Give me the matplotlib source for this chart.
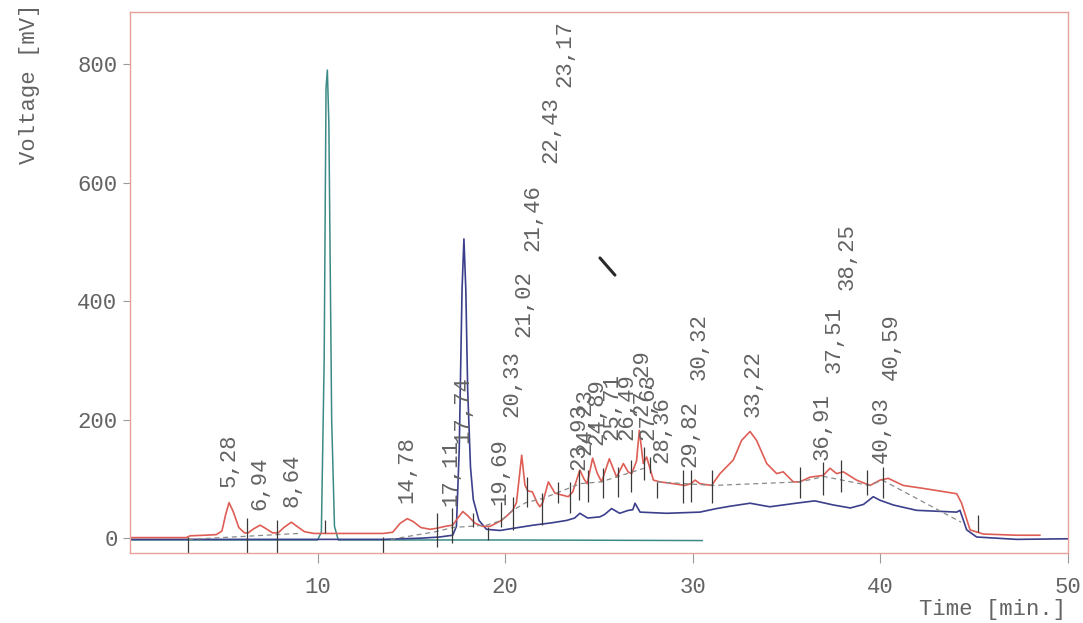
import matplotlib.pyplot as plt
import numpy as np

# red trace (sample)
red_t = [0, 3.0, 3.2, 4.0, 4.6, 4.9, 5.1, 5.28, 5.5, 5.8, 6.1, 6.3, 6.6, 6.94, 7.2, 7.6, 7.9, 8.2, 8.6, 8.9,
         9.3, 9.8, 10.2, 13.5, 14.0, 14.4, 14.78, 15.1, 15.5, 16.0, 16.4, 16.8, 17.2, 17.5, 17.74, 18.0, 18.4,
         18.8, 19.2, 19.5, 19.8, 20.1, 20.4, 20.6, 20.88, 21.05, 21.2, 21.45, 21.7, 21.85, 22.0, 22.3, 22.65,
         23.0, 23.36, 23.6, 23.98, 24.2, 24.37, 24.66, 24.9, 25.14, 25.55, 25.94, 26.3, 26.55, 26.74, 27.0,
         27.15, 27.36, 27.54, 27.9, 28.25, 28.96, 29.58, 29.9, 30.12, 30.38, 31.0, 31.45, 32.16, 32.6, 33.05,
         33.4, 33.94, 34.47, 34.82, 35.36, 35.7, 36.25, 36.96, 37.31, 37.67, 38.02, 38.73, 39.45, 39.98, 40.42,
         41.22, 42.29, 44.07, 44.33, 44.78, 45.49, 47.26, 48.5]
red_v = [1, 1, 4, 5, 6, 12, 40, 60, 45, 18, 9, 9, 16, 22, 17, 9, 9, 18, 27, 20,
         11, 8, 8, 8, 10, 25, 33, 28, 18, 15, 17, 20, 22, 35, 45, 38, 25,
         20, 20, 25, 30, 38, 47, 60, 140, 90, 80, 78, 60, 53, 60, 95, 76,
         73, 70, 78, 115, 100, 92, 135, 110, 95, 134, 103, 126, 112, 109, 130,
         182, 126, 137, 98, 95, 92, 89, 92, 98, 92, 89, 109, 132, 165, 180,
         165, 126, 109, 112, 95, 95, 103, 106, 118, 109, 112, 98, 89, 98, 101,
         89, 84, 75, 59, 14, 7, 5, 5]

# blue trace
blue_t = [0, 13.5, 14.5, 15.5, 16.5, 17.2, 17.4, 17.55, 17.7, 17.8, 17.9, 18.0, 18.15, 18.3, 18.6, 19.0,
          19.72, 20.5, 21.5, 22.5, 23.28, 23.7, 23.98, 24.4, 25.05, 25.3, 25.67, 26.1, 26.57, 26.8, 26.92,
          27.19, 28.6, 30.38, 31.27, 32.0, 33.05, 34.1, 35.5, 36.5, 37.5, 38.4, 39.1, 39.62, 39.98, 40.69,
          41.93, 44.07, 44.24, 44.6, 45.13, 47.26, 50]
blue_v = [-2, -2, -1, 0, 2, 5, 20, 150, 420, 505, 420, 250, 120, 65, 30, 15,
          13, 17, 22, 26, 30, 34, 42, 34, 36, 40, 50, 42, 47, 48, 59,
          44, 42, 44, 50, 54, 59, 53, 59, 63, 56, 51, 57, 70, 64, 56,
          47, 44, 47, 14, 2, -2, -1]

# teal trace
teal_t = [0, 10.0, 10.2, 10.35, 10.45, 10.52, 10.6, 10.75, 10.9, 11.1, 20, 30.5]
teal_v = [-3, -3, 10, 300, 760, 790, 700, 200, 20, -3, -3, -4]

# dashed integration baseline (nan = break)
base_t = [3.1, 9.0, np.nan, 13.9, 16.3, 17.2, 19.0, 19.8, 20.4, 21.1, 22.0, 24.0, 25.1, 26.8, 27.4,
          np.nan, 28.1, 31.1, 35.7, 37.0, 39.4, 40.1, 44.3]
base_v = [-2, 8, np.nan, -2, 11, 18, 22, 30, 47, 60, 67, 92, 95, 112, 118,
          np.nan, 95, 89, 95, 104, 89, 98, 27]

# integration marks: time, low, high
mark_t = [3.11, 6.22, 7.82, 10.4, 13.5, 16.34, 17.15, 18.3, 19.1, 19.8, 20.43, 21.14, 21.97, 22.83, 23.45,
          23.93, 24.4, 25.23, 26.0, 26.7, 27.42, 27.7, 28.07, 29.46, 29.89, 31.0, 35.7, 36.92, 37.9, 39.27,
          40.16, 45.18]
mark_lo = [-25, -25, -25, 8, -25, -15, -8, 19, -3, 19, 14, 53, 22, 59, 42,
           64, 61, 67, 70, 78, 98, 110, 67, 59, 61, 59, 67, 73, 78, 73,
           67, 11]
mark_hi = [2, 34, 30, 30, 2, 42, 51, 42, 19, 61, 70, 103, 76, 95, 95,
           115, 115, 118, 120, 132, 154, 137, 95, 115, 115, 115, 120, 129, 132, 115,
           120, 39]

# peak labels and the height of their lower end
peak_labels = ["5,28", "6,94", "8,64", "14,78", "17,11", "17,74", "19,69", "20,33", "21,02", "21,46",
               "22,43", "23,17", "23,93", "24,23", "24,89", "25,71", "26,49", "27,29", "27,63", "28,36",
               "29,82", "30,32", "33,22", "36,91", "37,51", "38,25", "40,03", "40,59"]
label_y = [86, 47, 52, 59, 54, 160, 56, 204, 340, 484,
           633, 761, 115, 140, 157, 165, 165, 206, 165, 127,
           120, 267, 204, 132, 278, 419, 127, 267]

# pen stroke on the scan
stroke_t = [25.05, 25.85]
stroke_v = [473, 444]

mono = "Liberation Mono"
grey = "#636363"
fs = 16

fig = plt.figure(figsize=(10.83, 6.23), dpi=100)
ax = fig.add_axes([130/1083, 70/623, 938/1083, 541/623])

ax.plot(teal_t, teal_v, color="#3b8a86", lw=1.1)
ax.plot(blue_t, blue_v, color="#3c3f8c", lw=1.2)
ax.plot(red_t, red_v, color="#de5e55", lw=1.2)
ax.plot(base_t, base_v, color="#8a8a8a", lw=0.9, ls=(0, (4, 3)))
ax.vlines(mark_t, mark_lo, mark_hi, color="#3a3a3a", lw=0.9)
ax.plot(stroke_t, stroke_v, color="#2a2a2a", lw=2.2, solid_capstyle="round")

for lab, yb in zip(peak_labels, label_y):
    ax.text(float(lab.replace(",", ".")), yb, lab, rotation=90, ha="center", va="bottom",
            family=mono, fontsize=fs, color=grey)

ax.set_xlim(0, 50)
ax.set_ylim(-25, 888)
ax.set_xticks([10, 20, 30, 40, 50])
ax.set_yticks([0, 200, 400, 600, 800])
for s in ax.spines.values():
    s.set_color("#e8a29b")
    s.set_linewidth(1.0)
ax.tick_params(axis="x", direction="out", length=7, width=0.8, color="#9a9a9a", pad=10,
               labelsize=fs, labelcolor=grey)
ax.tick_params(axis="y", direction="out", length=5, width=0.8, color="#9a9a9a", pad=4,
               labelsize=fs, labelcolor=grey)
for t in ax.get_xticklabels() + ax.get_yticklabels():
    t.set_family(mono)

fig.text(30/1083, 1 - 84/623, "Voltage [mV]", rotation=90, ha="center", va="center",
         family=mono, fontsize=fs, color=grey)
fig.text(1066/1083, 1 - 610/623, "Time [min.]", ha="right", va="center",
         family=mono, fontsize=fs, color=grey)

fig.savefig("out.png", dpi=100)
